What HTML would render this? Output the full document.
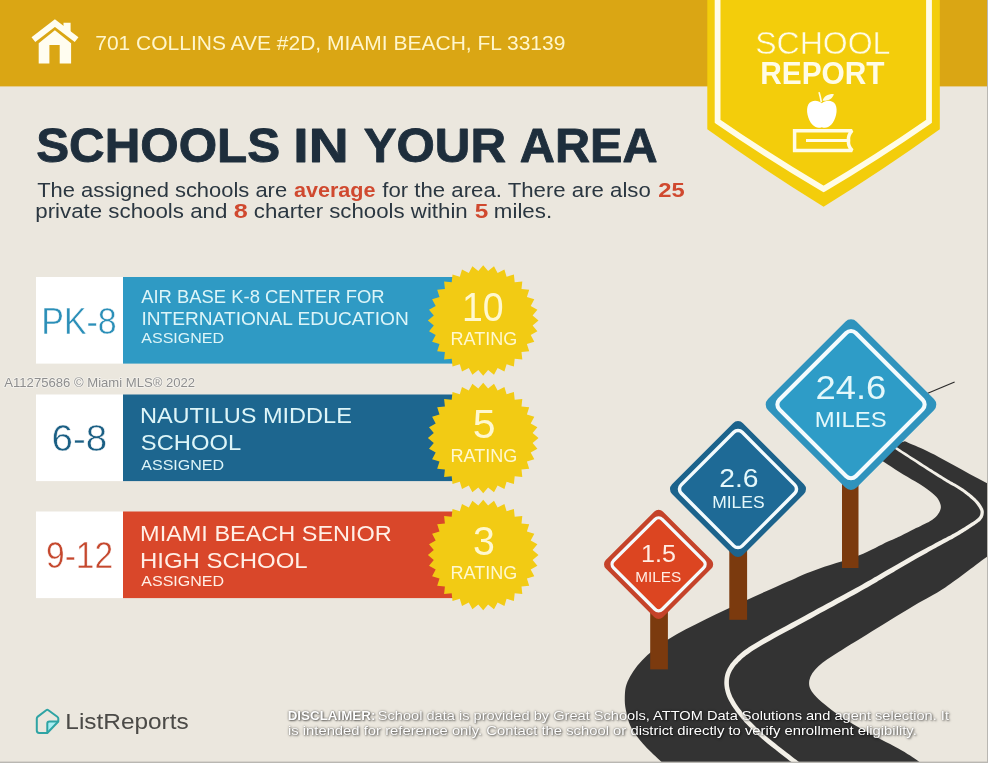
<!DOCTYPE html>
<html lang="en">
<head>
<meta charset="utf-8">
<title>School Report</title>
<style>
html,body{margin:0;padding:0;background:#EBE7DE;}
body{width:988px;height:763px;overflow:hidden;}
svg{display:block;}
svg text{font-family:"Liberation Sans",sans-serif;white-space:pre;}
</style>
</head>
<body>
<svg width="988" height="763" viewBox="0 0 988 763">
<rect x="0" y="0" width="988" height="763" fill="#EBE7DE"/>
<rect x="0" y="0" width="988" height="86.4" fill="#DAA614"/>
<path d="M904.8 441.2 C907.8 442.5 917.3 446.5 922.9 449.1 C928.5 451.7 933.4 454.2 938.6 457.0 C943.8 459.8 949.1 462.7 954.3 465.6 C959.5 468.5 964.6 471.3 970.0 474.2 C975.4 477.1 980.8 479.8 986.6 482.9 C992.4 486.0 1001.9 491.3 1005.0 493.0 L1005.0 545.0 C1002.2 546.8 998.0 548.9 988.0 556.0 C978.0 563.1 957.7 579.2 945.3 587.5 C932.9 595.8 926.9 597.9 913.8 605.8 C900.7 613.7 879.1 627.0 866.6 634.7 C854.1 642.4 846.6 646.8 838.6 652.1 C830.6 657.4 823.3 661.6 818.4 666.3 C813.5 671.0 810.0 675.8 809.3 680.5 C808.6 685.2 809.4 689.0 814.3 694.7 C819.2 700.4 829.5 708.5 838.6 714.9 C847.7 721.3 858.5 727.2 869.0 733.1 C879.5 739.0 892.7 745.3 901.4 750.3 C910.1 755.3 916.2 759.7 921.0 763.0 C925.8 766.3 928.5 768.8 930.0 770.0 L668.0 768.5 C666.7 767.2 662.8 763.2 660.0 760.5 C657.2 757.8 653.8 754.8 651.0 752.0 C648.2 749.2 645.5 746.5 643.0 743.7 C640.5 740.9 638.2 738.1 636.0 735.0 C633.8 731.9 631.6 728.8 630.0 725.0 C628.4 721.2 627.2 716.3 626.3 712.0 C625.4 707.7 624.6 704.1 624.8 699.0 C625.0 693.9 624.7 687.8 627.6 681.4 C630.5 675.0 635.2 667.4 642.0 660.4 C648.8 653.4 657.9 646.1 668.4 639.3 C678.9 632.5 692.1 626.2 705.3 619.6 C718.5 613.0 733.6 606.1 747.4 599.8 C761.2 593.4 776.9 586.4 788.0 581.5 C799.1 576.6 802.4 574.7 814.2 570.4 C826.0 566.1 846.4 560.4 858.7 555.6 C871.0 550.8 880.9 544.9 888.0 541.6 C895.1 538.3 896.7 537.8 901.1 535.7 C905.5 533.6 909.4 531.5 914.2 529.1 C919.0 526.7 926.1 523.6 929.9 521.3 C933.7 519.0 935.3 517.4 937.1 515.4 C938.9 513.4 940.1 511.0 940.6 509.0 C941.1 507.0 940.9 505.5 940.2 503.5 C939.5 501.5 938.6 499.4 936.5 497.0 C934.4 494.6 930.9 491.8 927.3 489.2 C923.7 486.6 919.7 484.2 915.0 481.3 C910.3 478.4 904.5 475.2 899.3 471.9 C894.1 468.6 888.5 464.8 883.6 461.7 C878.7 458.6 872.3 454.4 870.0 453.0 Z" fill="#333333"/>
<path d="M885.3 442.5 L885.8 442.8 L886.2 443.1 L886.8 443.5 L887.3 443.9 L888.0 444.3 L888.7 444.8 L889.6 445.4 L890.5 446.0 L891.6 446.7 L892.7 447.5 L894.1 448.4 L895.5 449.3 L897.2 450.4 L899.0 451.7 L901.1 453.0 L903.3 454.5 L905.6 456.0 L908.1 457.6 L910.5 459.2 L913.0 460.8 L915.4 462.3 L917.8 463.9 L920.0 465.4 L922.2 466.7 L924.2 468.1 L926.3 469.4 L928.3 470.7 L930.3 472.0 L932.3 473.2 L934.2 474.5 L936.1 475.7 L938.0 476.9 L939.8 478.0 L941.6 479.1 L943.3 480.2 L945.0 481.2 L946.5 482.2 L948.0 483.1 L949.5 483.9 L950.8 484.7 L952.2 485.4 L953.4 486.1 L954.7 486.8 L955.9 487.5 L957.1 488.2 L958.2 488.9 L959.4 489.7 L960.6 490.4 L961.7 491.3 L962.9 492.1 L964.1 493.0 L965.3 493.9 L966.4 494.8 L967.6 495.7 L968.7 496.6 L969.7 497.5 L970.7 498.4 L971.7 499.2 L972.6 500.0 L973.4 500.8 L974.2 501.6 L974.9 502.3 L975.5 503.1 L976.1 503.8 L976.7 504.5 L977.2 505.2 L977.7 505.9 L978.1 506.6 L978.6 507.2 L978.9 507.8 L979.3 508.4 L979.6 509.0 L979.8 509.5 L980.1 509.9 L980.2 510.3 L980.3 510.7 L980.4 511.0 L980.5 511.3 L980.5 511.6 L980.6 511.9 L980.6 512.1 L980.5 512.5 L980.5 512.8 L980.5 513.2 L980.4 513.6 L980.3 514.0 L980.3 514.3 L980.2 514.7 L980.0 515.0 L979.9 515.4 L979.7 515.7 L979.6 516.1 L979.3 516.4 L979.1 516.8 L978.8 517.2 L978.4 517.5 L978.0 517.9 L977.6 518.3 L977.2 518.7 L976.7 519.1 L976.2 519.5 L975.6 520.0 L975.0 520.4 L974.3 520.9 L973.5 521.4 L972.7 521.9 L971.8 522.5 L970.9 523.1 L969.9 523.8 L968.7 524.5 L967.5 525.3 L966.3 526.1 L964.9 526.9 L963.6 527.8 L962.2 528.6 L960.7 529.5 L959.3 530.3 L957.9 531.2 L956.6 532.0 L955.2 532.7 L954.0 533.4 L952.7 534.1 L951.6 534.7 L950.4 535.4 L949.2 536.0 L948.0 536.6 L946.8 537.2 L945.5 537.9 L944.1 538.6 L942.7 539.3 L941.1 540.2 L939.4 541.1 L937.6 542.1 L935.6 543.1 L933.6 544.2 L931.4 545.4 L929.2 546.5 L926.9 547.8 L924.6 549.0 L922.2 550.3 L919.9 551.5 L917.6 552.8 L915.3 554.1 L913.1 555.3 L910.9 556.5 L908.7 557.7 L906.5 559.0 L904.4 560.2 L902.2 561.5 L900.0 562.7 L897.9 564.0 L895.7 565.2 L893.5 566.5 L891.3 567.7 L889.0 569.0 L886.8 570.3 L884.6 571.6 L882.5 572.8 L880.4 574.0 L878.4 575.2 L876.3 576.4 L874.2 577.6 L872.0 578.9 L869.8 580.2 L867.3 581.6 L864.7 583.1 L861.9 584.7 L858.8 586.4 L855.4 588.2 L851.8 590.2 L848.0 592.3 L844.0 594.5 L839.8 596.7 L835.5 599.0 L831.2 601.4 L826.8 603.8 L822.4 606.2 L817.9 608.6 L813.6 611.0 L809.3 613.3 L804.9 615.7 L800.3 618.2 L795.6 620.8 L790.8 623.3 L786.0 625.9 L781.2 628.5 L776.5 631.1 L772.0 633.6 L767.7 636.0 L763.6 638.3 L759.9 640.4 L756.6 642.4 L753.7 644.2 L751.1 645.8 L748.7 647.3 L746.7 648.7 L744.8 650.1 L743.1 651.3 L741.6 652.5 L740.2 653.7 L738.8 654.9 L737.6 656.1 L736.3 657.4 L735.0 658.7 L733.8 660.1 L732.6 661.4 L731.5 662.8 L730.4 664.1 L729.5 665.5 L728.6 666.9 L727.8 668.3 L727.1 669.7 L726.4 671.2 L725.9 672.6 L725.4 674.1 L725.0 675.7 L724.7 677.2 L724.5 678.8 L724.4 680.4 L724.3 682.0 L724.3 683.6 L724.4 685.3 L724.6 686.9 L724.8 688.6 L725.2 690.3 L725.6 692.0 L726.1 693.7 L726.7 695.4 L727.4 697.2 L728.2 698.9 L729.1 700.7 L730.1 702.5 L731.2 704.4 L732.3 706.2 L733.5 708.0 L734.8 709.8 L736.1 711.7 L737.5 713.5 L738.9 715.3 L740.3 717.1 L741.8 718.9 L743.3 720.6 L744.8 722.4 L746.5 724.1 L748.1 725.8 L749.9 727.6 L751.6 729.3 L753.5 731.1 L755.4 732.9 L757.4 734.7 L759.5 736.6 L761.7 738.5 L764.0 740.5 L766.6 742.7 L769.4 745.0 L772.3 747.3 L775.3 749.6 L778.3 752.0 L781.2 754.3 L784.1 756.5 L786.8 758.6 L789.2 760.5 L791.4 762.1 L793.2 763.6 L794.8 764.8 L796.1 765.8 L797.1 766.6 L798.0 767.3 L798.8 767.9 L799.4 768.3 L799.9 768.7 L800.3 769.0 L800.7 769.2 L801.0 769.5 L801.3 769.7 L801.6 769.9 L804.4 766.1 L804.1 765.8 L803.8 765.6 L803.4 765.4 L803.1 765.1 L802.7 764.8 L802.2 764.5 L801.7 764.1 L800.9 763.5 L800.1 762.8 L799.0 762.0 L797.7 761.0 L796.2 759.8 L794.3 758.4 L792.1 756.7 L789.7 754.8 L787.0 752.7 L784.1 750.5 L781.2 748.3 L778.2 745.9 L775.3 743.6 L772.4 741.3 L769.6 739.0 L767.1 736.9 L764.7 734.9 L762.6 733.0 L760.6 731.2 L758.6 729.4 L756.7 727.7 L754.9 725.9 L753.2 724.2 L751.5 722.5 L749.9 720.9 L748.3 719.2 L746.8 717.5 L745.3 715.8 L743.9 714.1 L742.5 712.4 L741.2 710.6 L739.9 708.9 L738.6 707.2 L737.4 705.4 L736.2 703.7 L735.2 702.0 L734.2 700.3 L733.3 698.6 L732.4 696.9 L731.7 695.3 L731.1 693.8 L730.5 692.2 L730.1 690.7 L729.7 689.2 L729.4 687.8 L729.1 686.3 L729.0 684.9 L728.9 683.5 L728.9 682.1 L728.9 680.7 L729.1 679.4 L729.3 678.0 L729.6 676.7 L729.9 675.4 L730.3 674.2 L730.8 673.0 L731.4 671.8 L732.0 670.6 L732.7 669.4 L733.5 668.2 L734.3 667.0 L735.2 665.8 L736.3 664.6 L737.4 663.4 L738.6 662.1 L739.8 660.9 L741.0 659.7 L742.2 658.6 L743.4 657.5 L744.8 656.4 L746.2 655.3 L747.8 654.2 L749.5 652.9 L751.5 651.6 L753.8 650.1 L756.3 648.5 L759.2 646.8 L762.5 644.8 L766.1 642.7 L770.2 640.5 L774.5 638.1 L779.0 635.6 L783.7 633.1 L788.4 630.5 L793.3 627.9 L798.1 625.3 L802.8 622.7 L807.4 620.3 L811.7 617.9 L816.0 615.5 L820.4 613.1 L824.8 610.7 L829.3 608.3 L833.7 605.9 L838.0 603.6 L842.3 601.3 L846.4 599.0 L850.4 596.8 L854.3 594.7 L857.9 592.7 L861.2 590.8 L864.3 589.1 L867.2 587.4 L869.8 585.9 L872.2 584.5 L874.5 583.2 L876.7 581.9 L878.8 580.6 L880.8 579.4 L882.9 578.2 L884.9 577.0 L887.0 575.8 L889.2 574.5 L891.4 573.2 L893.7 571.9 L895.9 570.6 L898.1 569.3 L900.2 568.0 L902.4 566.8 L904.5 565.5 L906.7 564.3 L908.9 563.0 L911.0 561.8 L913.2 560.5 L915.3 559.3 L917.5 558.1 L919.8 556.8 L922.1 555.5 L924.4 554.2 L926.7 552.9 L929.0 551.6 L931.3 550.3 L933.5 549.1 L935.6 547.9 L937.6 546.8 L939.6 545.7 L941.4 544.7 L943.1 543.8 L944.6 543.0 L946.0 542.2 L947.4 541.5 L948.7 540.8 L949.9 540.1 L951.1 539.5 L952.3 538.9 L953.4 538.2 L954.6 537.5 L955.9 536.8 L957.2 536.1 L958.5 535.3 L959.9 534.4 L961.3 533.6 L962.7 532.7 L964.1 531.8 L965.5 530.9 L966.9 530.0 L968.2 529.2 L969.5 528.3 L970.7 527.5 L971.9 526.8 L972.9 526.1 L973.8 525.5 L974.7 524.9 L975.5 524.3 L976.3 523.8 L977.0 523.3 L977.7 522.8 L978.3 522.3 L978.9 521.8 L979.5 521.4 L980.0 520.9 L980.5 520.4 L981.0 519.9 L981.4 519.3 L981.8 518.8 L982.2 518.2 L982.5 517.7 L982.8 517.2 L983.0 516.6 L983.2 516.1 L983.4 515.6 L983.5 515.1 L983.6 514.6 L983.7 514.1 L983.7 513.6 L983.8 513.1 L983.8 512.7 L983.8 512.2 L983.8 511.7 L983.8 511.2 L983.7 510.7 L983.6 510.2 L983.4 509.7 L983.2 509.1 L983.0 508.6 L982.7 508.0 L982.4 507.4 L982.1 506.8 L981.7 506.2 L981.3 505.5 L980.8 504.8 L980.3 504.1 L979.8 503.3 L979.2 502.6 L978.6 501.8 L977.9 501.0 L977.2 500.2 L976.4 499.4 L975.6 498.6 L974.7 497.8 L973.8 496.9 L972.8 496.0 L971.7 495.1 L970.6 494.2 L969.5 493.3 L968.3 492.4 L967.1 491.5 L965.9 490.6 L964.7 489.7 L963.5 488.8 L962.2 488.0 L961.0 487.2 L959.8 486.4 L958.6 485.7 L957.4 484.9 L956.1 484.3 L954.9 483.6 L953.6 482.9 L952.3 482.1 L950.9 481.4 L949.5 480.6 L948.0 479.7 L946.4 478.8 L944.8 477.8 L943.1 476.7 L941.3 475.6 L939.5 474.5 L937.7 473.3 L935.7 472.1 L933.8 470.9 L931.8 469.6 L929.8 468.4 L927.7 467.1 L925.7 465.8 L923.6 464.5 L921.5 463.1 L919.2 461.6 L916.8 460.1 L914.4 458.6 L911.9 457.0 L909.5 455.4 L907.1 453.8 L904.7 452.3 L902.5 450.9 L900.4 449.5 L898.5 448.3 L896.9 447.3 L895.4 446.3 L894.1 445.4 L892.9 444.7 L891.9 444.0 L890.9 443.4 L890.1 442.8 L889.4 442.3 L888.7 441.9 L888.1 441.5 L887.6 441.1 L887.1 440.8 L886.7 440.5Z" fill="#F3F0E8"/>
<path d="M926 394 L954.6 382" stroke="#2a2a2a" stroke-width="1.2" fill="none"/>
<rect x="842" y="470" width="16.5" height="98" fill="#7B3A0E"/>
<rect x="729.3" y="540" width="17.8" height="79.8" fill="#7B3A0E"/>
<rect x="650.2" y="605" width="17.7" height="64.4" fill="#7B3A0E"/>
<g transform="translate(851.0 404.6) rotate(45)">
<rect x="-62.66" y="-62.66" width="125.32" height="125.32" rx="8.0" fill="#2F93BD"/>
<rect x="-54.06" y="-54.06" width="108.12" height="108.12" rx="6.8" fill="#2E9CC7" stroke="#F4FBFD" stroke-width="4.1"/>
</g>
<g transform="translate(738.0 489.1) rotate(45)">
<rect x="-50.13" y="-50.13" width="100.27" height="100.27" rx="7.0" fill="#1C638C"/>
<rect x="-43.13" y="-43.13" width="86.27" height="86.27" rx="6.0" fill="#1E6A96" stroke="#F4FBFD" stroke-width="3.5"/>
</g>
<g transform="translate(658.6 564.3) rotate(45)">
<rect x="-40.37" y="-40.37" width="80.73" height="80.73" rx="6.0" fill="#C5432A"/>
<rect x="-34.37" y="-34.37" width="68.73" height="68.73" rx="5.1" fill="#DC4521" stroke="#F4FBFD" stroke-width="3.3"/>
</g>
<text x="815.48" y="399.10" font-size="33.5" fill="#E4F8FB" textLength="70.84" lengthAdjust="spacingAndGlyphs">24.6</text>
<text x="814.89" y="426.50" font-size="22.9" fill="#E4F8FB" textLength="71.70" lengthAdjust="spacingAndGlyphs">MILES</text>
<text x="719.19" y="486.90" font-size="26.1" fill="#E4F8FB" textLength="39.23" lengthAdjust="spacingAndGlyphs">2.6</text>
<text x="712.20" y="507.80" font-size="17.0" fill="#E4F8FB" textLength="52.44" lengthAdjust="spacingAndGlyphs">MILES</text>
<text x="641.04" y="562.40" font-size="24.2" fill="#FFEDE4" textLength="34.86" lengthAdjust="spacingAndGlyphs">1.5</text>
<text x="635.27" y="581.80" font-size="15.1" fill="#FFEDE4" textLength="45.99" lengthAdjust="spacingAndGlyphs">MILES</text>
<path d="M707.3 0 L939.8 0 L939.8 129.3 Q881.7 171.0 823.6 206.7 Q765.4 171.0 707.3 129.3 Z" fill="#F3CD0B"/>
<path d="M717.6 -5 L717.6 121.3 Q770.6 157.9 823.6 188.9 Q876.3 157.9 929 121.3 L929 -5" fill="none" stroke="#FFFCE6" stroke-width="5.8" stroke-linejoin="miter"/>
<text x="755.17" y="54.40" font-size="31.7" fill="#FFFCE6" textLength="135.22" lengthAdjust="spacingAndGlyphs"  stroke="#F3CD0B" stroke-width="0.5">SCHOOL</text>
<text x="760.21" y="83.70" font-size="31.3" fill="#FFFCE6" textLength="124.32" lengthAdjust="spacingAndGlyphs" font-weight="bold">REPORT</text>
<path d="M794.6 130.7 L852.0 130.7 Q847.6 135.8 848.6 140.6 Q847.6 145.6 852.2 150.5 L794.6 150.5 Z" fill="none" stroke="#FFFCE6" stroke-width="3.5" stroke-linejoin="miter" stroke-miterlimit="2"/>
<path d="M806 140.6 L849 140.6" stroke="#FFFCE6" stroke-width="3" fill="none"/>
<path d="M821.8 103.2 C818.5 100 811 99.5 808.3 104.5 C805.5 110 807.8 119.5 812.5 124.8 C815.5 128 818.8 128.3 821.8 127.2 C824.8 128.3 828.2 128 831.2 124.8 C835.9 119.5 838.2 110 835.4 104.5 C832.7 99.5 825.1 100 821.8 103.2 Z" fill="#FFFFFF"/>
<path d="M819.2 92.8 C820 95.5 820.6 98 821.2 101.5" stroke="#FFFCE6" stroke-width="1.6" fill="none" stroke-linecap="round"/>
<path d="M822.6 100.8 C823.5 96.5 828 93.8 833.8 94 C833 98.5 828.5 101.2 822.6 100.8 Z" fill="#FFFCE6"/>
<g fill="#FFFDF0">
<path d="M38.7 43.2 L54.9 30.2 L71.1 43.2 L71.1 63.6 L59.7 63.6 L59.7 44.9 L49.4 44.9 L49.4 63.6 L38.7 63.6 Z"/>
<path d="M63.5 22.7 L70.6 22.7 L70.6 34 L63.5 28.3 Z"/>
</g>
<path d="M33.4 39.7 L54.9 23.0 L76.6 39.7" fill="none" stroke="#FFFDF0" stroke-width="6.1" stroke-linecap="butt" stroke-linejoin="miter"/>
<text x="95.25" y="49.50" font-size="19.8" fill="#FFF6CC" textLength="470.11" lengthAdjust="spacingAndGlyphs">701 COLLINS AVE #2D, MIAMI BEACH, FL 33139</text>
<text x="36.16" y="161.60" font-size="48.5" fill="#1E2E3C" textLength="244.01" lengthAdjust="spacingAndGlyphs" font-weight="bold" stroke="#1E2E3C" stroke-width="0.9" stroke-linejoin="round">SCHOOLS</text>
<text x="293.34" y="161.60" font-size="48.5" fill="#1E2E3C" textLength="55.25" lengthAdjust="spacingAndGlyphs" font-weight="bold" stroke="#1E2E3C" stroke-width="0.9" stroke-linejoin="round">IN</text>
<text x="363.66" y="161.60" font-size="48.5" fill="#1E2E3C" textLength="142.29" lengthAdjust="spacingAndGlyphs" font-weight="bold" stroke="#1E2E3C" stroke-width="0.9" stroke-linejoin="round">YOUR</text>
<text x="519.88" y="161.60" font-size="48.5" fill="#1E2E3C" textLength="137.75" lengthAdjust="spacingAndGlyphs" font-weight="bold" stroke="#1E2E3C" stroke-width="0.9" stroke-linejoin="round">AREA</text>
<text x="37.16" y="196.50" font-size="20.1" fill="#2B3741" textLength="249.93" lengthAdjust="spacingAndGlyphs">The assigned schools are</text>
<text x="293.97" y="196.50" font-size="20.1" fill="#D0492F" textLength="81.60" lengthAdjust="spacingAndGlyphs" font-weight="bold">average</text>
<text x="382.28" y="196.50" font-size="20.1" fill="#2B3741" textLength="268.52" lengthAdjust="spacingAndGlyphs">for the area. There are also</text>
<text x="658.19" y="196.50" font-size="20.1" fill="#D0492F" textLength="26.43" lengthAdjust="spacingAndGlyphs" font-weight="bold">25</text>
<text x="35.26" y="218.20" font-size="20.1" fill="#2B3741" textLength="192.09" lengthAdjust="spacingAndGlyphs">private schools and</text>
<text x="233.74" y="218.20" font-size="20.1" fill="#D0492F" textLength="14.02" lengthAdjust="spacingAndGlyphs" font-weight="bold">8</text>
<text x="253.81" y="218.20" font-size="20.1" fill="#2B3741" textLength="213.94" lengthAdjust="spacingAndGlyphs">charter schools within</text>
<text x="474.67" y="218.20" font-size="20.1" fill="#D0492F" textLength="13.57" lengthAdjust="spacingAndGlyphs" font-weight="bold">5</text>
<text x="493.86" y="218.20" font-size="20.1" fill="#2B3741" textLength="58.30" lengthAdjust="spacingAndGlyphs">miles.</text>
<rect x="36" y="277.0" width="87.2" height="86.6" fill="#FFFFFF"/>
<rect x="123" y="277.0" width="330" height="86.6" fill="#2F9AC4"/>
<polygon points="483.2,265.2 488.1,271.1 494.0,266.3 497.6,273.0 504.4,269.4 506.6,276.8 513.9,274.5 514.7,282.2 522.3,281.4 521.5,289.0 529.2,289.8 526.9,297.1 534.3,299.3 530.7,306.1 537.4,309.7 532.6,315.6 538.5,320.5 532.6,325.4 537.4,331.3 530.7,334.9 534.3,341.7 526.9,343.9 529.2,351.2 521.5,352.0 522.3,359.6 514.7,358.8 513.9,366.5 506.6,364.2 504.4,371.6 497.6,368.0 494.0,374.7 488.1,369.9 483.2,375.8 478.3,369.9 472.4,374.7 468.8,368.0 462.0,371.6 459.8,364.2 452.5,366.5 451.7,358.8 444.1,359.6 444.9,352.0 437.2,351.2 439.5,343.9 432.1,341.7 435.7,334.9 429.0,331.3 433.8,325.4 427.9,320.5 433.8,315.6 429.0,309.7 435.7,306.1 432.1,299.3 439.5,297.1 437.2,289.8 444.9,289.0 444.1,281.4 451.7,282.2 452.5,274.5 459.8,276.8 462.0,269.4 468.8,273.0 472.4,266.3 478.3,271.1" fill="#F2CB14"/>
<text x="41.23" y="333.70" font-size="36.2" fill="#2B8FB8" textLength="75.55" lengthAdjust="spacingAndGlyphs"  stroke="#FFFFFF" stroke-width="0.5">PK-8</text>
<text x="141.20" y="302.90" font-size="17.8" fill="#DDF5F8" textLength="243.48" lengthAdjust="spacingAndGlyphs">AIR BASE K-8 CENTER FOR</text>
<text x="141.48" y="324.50" font-size="17.8" fill="#DDF5F8" textLength="267.29" lengthAdjust="spacingAndGlyphs">INTERNATIONAL EDUCATION</text>
<text x="141.30" y="342.70" font-size="14.8" fill="#DDF5F8" textLength="82.78" lengthAdjust="spacingAndGlyphs">ASSIGNED</text>
<text x="461.98" y="320.70" font-size="40.3" fill="#FFF8CF" textLength="41.68" lengthAdjust="spacingAndGlyphs">10</text>
<text x="450.56" y="344.90" font-size="18.2" fill="#FFF8CF" textLength="66.76" lengthAdjust="spacingAndGlyphs">RATING</text>
<rect x="36" y="394.5" width="87.2" height="86.6" fill="#FFFFFF"/>
<rect x="123" y="394.5" width="330" height="86.6" fill="#1D668F"/>
<polygon points="483.2,382.7 488.1,388.6 494.0,383.8 497.6,390.5 504.4,386.9 506.6,394.3 513.9,392.0 514.7,399.7 522.3,398.9 521.5,406.5 529.2,407.3 526.9,414.6 534.3,416.8 530.7,423.6 537.4,427.2 532.6,433.1 538.5,438.0 532.6,442.9 537.4,448.8 530.7,452.4 534.3,459.2 526.9,461.4 529.2,468.7 521.5,469.5 522.3,477.1 514.7,476.3 513.9,484.0 506.6,481.7 504.4,489.1 497.6,485.5 494.0,492.2 488.1,487.4 483.2,493.3 478.3,487.4 472.4,492.2 468.8,485.5 462.0,489.1 459.8,481.7 452.5,484.0 451.7,476.3 444.1,477.1 444.9,469.5 437.2,468.7 439.5,461.4 432.1,459.2 435.7,452.4 429.0,448.8 433.8,442.9 427.9,438.0 433.8,433.1 429.0,427.2 435.7,423.6 432.1,416.8 439.5,414.6 437.2,407.3 444.9,406.5 444.1,398.9 451.7,399.7 452.5,392.0 459.8,394.3 462.0,386.9 468.8,390.5 472.4,383.8 478.3,388.6" fill="#F2CB14"/>
<text x="51.52" y="451.20" font-size="36.2" fill="#1B5F84" textLength="55.72" lengthAdjust="spacingAndGlyphs"  stroke="#FFFFFF" stroke-width="0.5">6-8</text>
<text x="139.92" y="422.90" font-size="22.8" fill="#DDF5F8" textLength="211.95" lengthAdjust="spacingAndGlyphs">NAUTILUS MIDDLE</text>
<text x="140.85" y="450.00" font-size="22.8" fill="#DDF5F8" textLength="100.37" lengthAdjust="spacingAndGlyphs">SCHOOL</text>
<text x="141.30" y="469.60" font-size="14.8" fill="#DDF5F8" textLength="82.78" lengthAdjust="spacingAndGlyphs">ASSIGNED</text>
<text x="472.86" y="438.20" font-size="40.3" fill="#FFF8CF" textLength="22.83" lengthAdjust="spacingAndGlyphs">5</text>
<text x="450.56" y="462.40" font-size="18.2" fill="#FFF8CF" textLength="66.76" lengthAdjust="spacingAndGlyphs">RATING</text>
<rect x="36" y="511.5" width="87.2" height="86.6" fill="#FFFFFF"/>
<rect x="123" y="511.5" width="330" height="86.6" fill="#D9472A"/>
<polygon points="483.2,499.7 488.1,505.6 494.0,500.8 497.6,507.5 504.4,503.9 506.6,511.3 513.9,509.0 514.7,516.7 522.3,515.9 521.5,523.5 529.2,524.3 526.9,531.6 534.3,533.8 530.7,540.6 537.4,544.2 532.6,550.1 538.5,555.0 532.6,559.9 537.4,565.8 530.7,569.4 534.3,576.2 526.9,578.4 529.2,585.7 521.5,586.5 522.3,594.1 514.7,593.3 513.9,601.0 506.6,598.7 504.4,606.1 497.6,602.5 494.0,609.2 488.1,604.4 483.2,610.3 478.3,604.4 472.4,609.2 468.8,602.5 462.0,606.1 459.8,598.7 452.5,601.0 451.7,593.3 444.1,594.1 444.9,586.5 437.2,585.7 439.5,578.4 432.1,576.2 435.7,569.4 429.0,565.8 433.8,559.9 427.9,555.0 433.8,550.1 429.0,544.2 435.7,540.6 432.1,533.8 439.5,531.6 437.2,524.3 444.9,523.5 444.1,515.9 451.7,516.7 452.5,509.0 459.8,511.3 462.0,503.9 468.8,507.5 472.4,500.8 478.3,505.6" fill="#F2CB14"/>
<text x="46.01" y="568.20" font-size="36.2" fill="#C5482E" textLength="67.19" lengthAdjust="spacingAndGlyphs"  stroke="#FFFFFF" stroke-width="0.5">9-12</text>
<text x="140.12" y="541.10" font-size="22.8" fill="#FFEFE6" textLength="251.57" lengthAdjust="spacingAndGlyphs">MIAMI BEACH SENIOR</text>
<text x="140.09" y="568.00" font-size="22.8" fill="#FFEFE6" textLength="167.54" lengthAdjust="spacingAndGlyphs">HIGH SCHOOL</text>
<text x="141.30" y="586.40" font-size="14.8" fill="#FFEFE6" textLength="82.78" lengthAdjust="spacingAndGlyphs">ASSIGNED</text>
<text x="473.12" y="555.20" font-size="40.3" fill="#FFF8CF" textLength="21.91" lengthAdjust="spacingAndGlyphs">3</text>
<text x="450.56" y="579.40" font-size="18.2" fill="#FFF8CF" textLength="66.76" lengthAdjust="spacingAndGlyphs">RATING</text>
<text x="4.30" y="386.90" font-size="13" fill="#8E8E8E" textLength="190.80" lengthAdjust="spacingAndGlyphs" stroke="#F5F3EE" stroke-width="1.6" paint-order="stroke" stroke-linejoin="round">A11275686 © Miami MLS® 2022</text>
<path d="M47.3 721.5 L58.3 721.5 L47.3 733 Z" fill="#A9EEF3"/>
<path d="M46.2 710.2 Q47.3 709.4 48.4 710.2 L57.3 716.7 Q58.3 717.4 58.3 718.6 L58.3 721.5 L47.3 733 L39.2 733 Q36.8 733 36.8 730.6 L36.8 718.6 Q36.8 717.4 37.8 716.6 Z" fill="none" stroke="#2FA4A4" stroke-width="2" stroke-linejoin="round"/>
<path d="M58.3 721.4 L49.4 721.4 Q47.3 721.4 47.3 723.5 L47.3 732.8" fill="none" stroke="#2FA4A4" stroke-width="2" stroke-linejoin="round"/>
<text x="65.35" y="728.70" font-size="22.3" fill="#4B4A47" textLength="123.38" lengthAdjust="spacingAndGlyphs">ListReports</text>
<text x="287.70" y="720.20" font-size="12.8" fill="#FFFFFF" textLength="87.65" lengthAdjust="spacingAndGlyphs" font-weight="bold" style="text-shadow:0 0 2px rgba(0,0,0,.6),1px 1px 2px rgba(0,0,0,.5)">DISCLAIMER:</text>
<text x="377.72" y="720.20" font-size="12.8" fill="#FFFFFF" textLength="571.25" lengthAdjust="spacingAndGlyphs" style="text-shadow:0 0 2px rgba(0,0,0,.6),1px 1px 2px rgba(0,0,0,.5)">School data is provided by Great Schools, ATTOM Data Solutions and agent selection. It</text>
<text x="287.91" y="734.70" font-size="12.8" fill="#FFFFFF" textLength="628.89" lengthAdjust="spacingAndGlyphs" style="text-shadow:0 0 2px rgba(0,0,0,.6),1px 1px 2px rgba(0,0,0,.5)">is intended for reference only. Contact the school or district directly to verify enrollment eligibility.</text>
<rect x="987" y="0" width="1" height="763" fill="#B9B7B2"/>
<rect x="0" y="761.6" width="988" height="1.4" fill="#B9B7B2"/>
</svg>
</body>
</html>
